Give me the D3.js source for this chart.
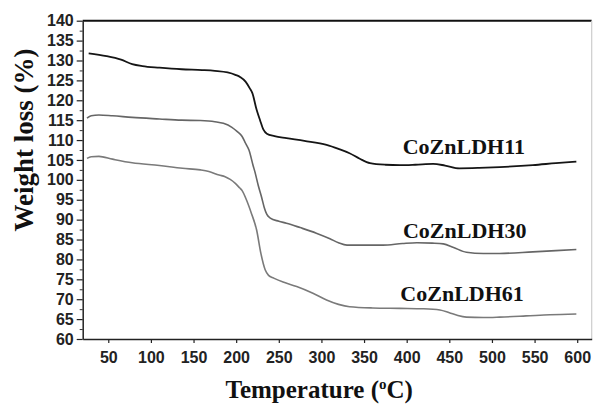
<!DOCTYPE html>
<html><head><meta charset="utf-8">
<script src="https://cdn.jsdelivr.net/npm/d3@7"></script>
<style>body{margin:0;background:#fff}svg{display:block}</style>
</head><body>
<svg id="c" width="593" height="405"></svg>
<script>
const temps11 = [27,48,65,78,90,110,136,160,175,190,199,205,211,216,219,224,228,232,236,245,259,280,306,320,333,345,357,375,392,410,431,445,462,485,509,548,575,599];
const vals11  = [131.8,131.1,130.2,129.1,128.6,128.2,127.8,127.6,127.4,127.0,126.4,125.8,124.7,123.0,121.8,117.6,115.0,112.6,111.6,111.0,110.5,109.8,108.8,107.8,106.7,105.3,104.2,103.8,103.7,103.8,104.0,103.6,102.9,103.0,103.2,103.7,104.2,104.6];
const temps30 = [25,30,39,55,78,110,136,158,175,185,195,201,207,211,215,220,222,226,230,233,236,240,250,259,275,294,310,320,330,350,372,395,412,430,443,455,470,490,509,548,575,599];
const vals30  = [115.5,116.1,116.3,116.1,115.7,115.3,115.0,114.9,114.6,114.2,113.2,112.2,110.9,109.2,107.5,103.5,102.0,98.5,95.5,93.0,91.3,90.4,89.6,89.1,88.0,86.6,85.2,84.2,83.6,83.6,83.6,84.0,84.2,84.1,83.9,83.0,81.8,81.5,81.5,81.9,82.2,82.5];
const temps61 = [25,30,39,55,78,110,137,158,168,180,187,193,199,204,207,212,218,224,229,234,238,244,255,271,290,306,320,333,360,392,420,439,450,460,470,490,509,540,568,599];
const vals61  = [105.4,105.8,105.9,105.2,104.3,103.6,102.9,102.5,102.1,101.2,100.8,100.1,99.1,98.0,97.3,95.0,91.5,87.4,81.5,77.4,76.0,75.3,74.3,73.2,71.5,69.8,68.7,68.1,67.8,67.7,67.6,67.3,66.6,65.9,65.5,65.4,65.5,65.8,66.1,66.3];
const seriesNames = ["CoZnLDH11","CoZnLDH30","CoZnLDH61"];
const xTicks = [50,100,150,200,250,300,350,400,450,500,550,600];
const yTicks = [60,65,70,75,80,85,90,95,100,105,110,115,120,125,130,135,140];

const svg = d3.select("#c");
const L=82.7, R=591.7, T=20.7, B=339;
const x = d3.scaleLinear().domain([20,617]).range([L,R]);
const y = d3.scaleLinear().domain([60,140]).range([B,T]);

svg.append("line").attr("x1",L).attr("x2",R).attr("y1",T).attr("y2",T).attr("stroke","#111").attr("stroke-width",2);
svg.append("line").attr("x1",R).attr("x2",R).attr("y1",T).attr("y2",B).attr("stroke","#ccc").attr("stroke-width",1.2);

const yMinor = d3.range(62.5,140,5);
svg.append("g").attr("transform",`translate(${L},0)`)
  .call(d3.axisLeft(y).tickValues(yMinor).tickSize(3).tickFormat(""))
  .call(g=>g.select(".domain").remove())
  .selectAll("line").attr("stroke","#333");
const ya = svg.append("g").attr("transform",`translate(${L},0)`)
  .call(d3.axisLeft(y).tickValues(yTicks).tickSize(6).tickPadding(3).tickSizeOuter(0));
ya.select(".domain").attr("stroke","#222").attr("stroke-width",1.5);
ya.selectAll(".tick line").attr("stroke","#222").attr("stroke-width",1.2);
ya.selectAll("text").attr("font-family","Liberation Sans, Arial, sans-serif").attr("font-weight","bold").attr("font-size",16).attr("fill","#222");

const xa = svg.append("g").attr("transform",`translate(0,${B})`)
  .call(d3.axisBottom(x).tickValues(xTicks).tickSize(4).tickPadding(9).tickSizeOuter(0));
xa.select(".domain").attr("stroke","#222").attr("stroke-width",1.5);
xa.selectAll(".tick line").attr("stroke","#222").attr("stroke-width",1.2);
xa.selectAll("text").attr("font-family","Liberation Sans, Arial, sans-serif").attr("font-weight","bold").attr("font-size",16).attr("fill","#222");

const line = d3.line().x(d=>x(d[0])).y(d=>y(d[1])).curve(d3.curveMonotoneX);
const data = [
  {name:seriesNames[0], t:temps11, v:vals11, color:"#151515", w:1.8},
  {name:seriesNames[1], t:temps30, v:vals30, color:"#666", w:1.6},
  {name:seriesNames[2], t:temps61, v:vals61, color:"#7a7a7a", w:1.6}
];
data.forEach(s=>{
  svg.append("path").datum(s.t.map((t,i)=>[t,s.v[i]]))
    .attr("d",line).attr("fill","none").attr("stroke",s.color).attr("stroke-width",s.w);
});

const labelPos = [[467,106.5],[468,85.4],[465,69.5]];
data.forEach((s,i)=>{
  svg.append("text").attr("x",x(labelPos[i][0])).attr("y",y(labelPos[i][1]))
    .attr("text-anchor","middle").attr("font-family","Liberation Serif, Times New Roman, serif")
    .attr("font-weight","bold").attr("font-size",22).attr("fill","#111").text(s.name);
});

svg.append("text").attr("transform",`translate(33,140) rotate(-90)`)
  .attr("text-anchor","middle").attr("font-family","Liberation Serif, Times New Roman, serif")
  .attr("font-weight","bold").attr("font-size",27).attr("fill","#111").text("Weight loss (%)");

const xl = svg.append("text").attr("x",(L+R)/2 - 18).attr("y",398)
  .attr("text-anchor","middle").attr("font-family","Liberation Serif, Times New Roman, serif")
  .attr("font-weight","bold").attr("font-size",25).attr("fill","#111");
xl.append("tspan").text("Temperature (");
xl.append("tspan").attr("font-size",15).attr("dy",-9).text("o");
xl.append("tspan").attr("dy",9).text("C)");
</script>
</body></html>
